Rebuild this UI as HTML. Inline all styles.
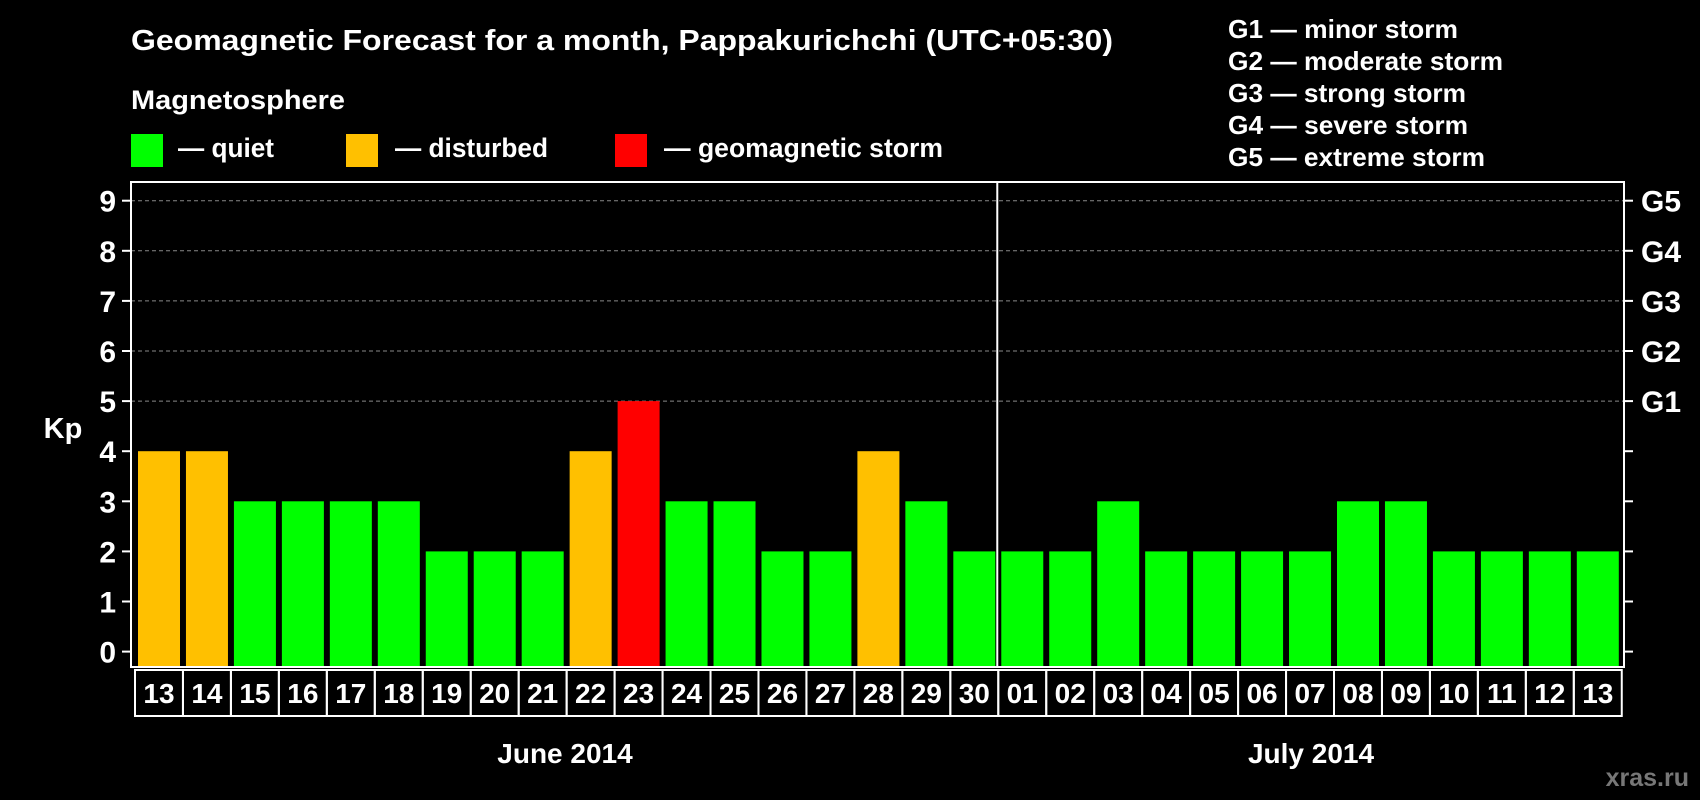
<!DOCTYPE html>
<html><head><meta charset="utf-8"><style>
html,body{margin:0;padding:0;background:#000;}
svg{display:block;font-family:"Liberation Sans",Arial,sans-serif;font-weight:bold;}
</style></head><body>
<svg id="c" width="1700" height="800" viewBox="0 0 1700 800">
<text x="131" y="50" fill="#fff" font-size="29" textLength="982" lengthAdjust="spacingAndGlyphs">Geomagnetic Forecast for a month, Pappakurichchi (UTC+05:30)</text>
<text x="131" y="109" fill="#fff" font-size="27" textLength="214" lengthAdjust="spacingAndGlyphs">Magnetosphere</text>
<rect x="131" y="134" width="32" height="33" fill="#00ff00"/>
<text x="178" y="157" fill="#fff" font-size="27" textLength="96" lengthAdjust="spacingAndGlyphs">— quiet</text>
<rect x="346" y="134" width="32" height="33" fill="#ffc000"/>
<text x="395" y="157" fill="#fff" font-size="27" textLength="153" lengthAdjust="spacingAndGlyphs">— disturbed</text>
<rect x="615" y="134" width="32" height="33" fill="#ff0000"/>
<text x="664" y="157" fill="#fff" font-size="27" textLength="279" lengthAdjust="spacingAndGlyphs">— geomagnetic storm</text>
<g fill="#fff" font-size="26">
<text x="1228" y="38" textLength="230" lengthAdjust="spacingAndGlyphs">G1 — minor storm</text>
<text x="1228" y="70" textLength="275" lengthAdjust="spacingAndGlyphs">G2 — moderate storm</text>
<text x="1228" y="102" textLength="238" lengthAdjust="spacingAndGlyphs">G3 — strong storm</text>
<text x="1228" y="134" textLength="240" lengthAdjust="spacingAndGlyphs">G4 — severe storm</text>
<text x="1228" y="166" textLength="257" lengthAdjust="spacingAndGlyphs">G5 — extreme storm</text>
</g>
<text x="63" y="438" fill="#fff" font-size="29" text-anchor="middle">Kp</text>
<g id="grid"></g><g id="bars"></g><g id="axes"></g>
<text x="565" y="763" fill="#fff" font-size="28" text-anchor="middle">June 2014</text>
<text x="1311" y="763" fill="#fff" font-size="28" text-anchor="middle">July 2014</text>
<text x="1689" y="786" fill="#777" font-size="25" text-anchor="end">xras.ru</text>
</svg>
<script>
const days=["13","14","15","16","17","18","19","20","21","22","23","24","25","26","27","28","29","30","01","02","03","04","05","06","07","08","09","10","11","12","13"];
const kp=[4,4,3,3,3,3,2,2,2,4,5,3,3,2,2,4,3,2,2,2,3,2,2,2,2,3,3,2,2,2,2];
const yTicks=[0,1,2,3,4,5,6,7,8,9];
const gLabels=["G1","G2","G3","G4","G5"];
const NS="http://www.w3.org/2000/svg";
const L=131,R=1624,T=182,B=667,y0=651.6,unit=50.1,step=47.96,x0=135,bw=42;
const y=v=>y0-v*unit, x=i=>x0+i*step;
function mk(tag,attrs,parent,txt){const e=document.createElementNS(NS,tag);for(const k in attrs)e.setAttribute(k,attrs[k]);if(txt!==undefined)e.textContent=txt;parent.appendChild(e);return e;}
const grid=document.getElementById('grid'),bars=document.getElementById('bars'),axes=document.getElementById('axes');
yTicks.forEach(v=>{
 if(v>=5){const g=mk('line',{x1:L,x2:R,y1:y(v),y2:y(v),stroke:'#888','stroke-width':1,'stroke-dasharray':'4,3'},grid);
 
 }
 const t=mk('line',{x1:L-9,x2:L,y1:y(v),y2:y(v),stroke:'#fff','stroke-width':2},axes);
 
 
 const t2=mk('line',{x1:R,x2:R+9,y1:y(v),y2:y(v),stroke:'#fff','stroke-width':2},axes);
 
 
 const lb=mk('text',{x:116,y:y(v)+11,fill:'#fff','font-size':30,'text-anchor':'end'},axes,String(v));
 
 
});
gLabels.forEach((g,i)=>{
 const lb=mk('text',{x:1641,y:y(5+i)+11,fill:'#fff','font-size':30},axes,g);
 
 
});
kp.forEach((v,i)=>{
 const col=v>=5?'#ff0000':(v>=4?'#ffc000':'#00ff00');
 const r=mk('rect',{x:x(i)+3,y:y(v),width:bw,height:B-y(v),fill:col},bars);
 
 
 const bx=mk('rect',{x:x(i),y:670,width:step,height:46,fill:'none',stroke:'#fff','stroke-width':2},axes);
 
 
 const tl=mk('text',{x:x(i)+step/2,y:703,fill:'#fff','font-size':28,'text-anchor':'middle'},axes,days[i]);
 
 
});
const fr=mk('rect',{x:L,y:T,width:R-L,height:B-T,fill:'none',stroke:'#fff','stroke-width':2},axes);


const dv=mk('line',{x1:x(18)-1,x2:x(18)-1,y1:T,y2:B,stroke:'#fff','stroke-width':2},axes);


</script>
</body></html>
